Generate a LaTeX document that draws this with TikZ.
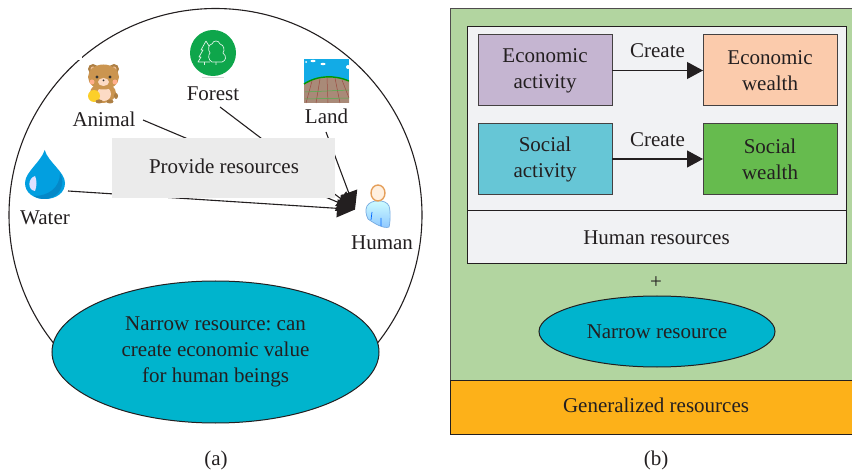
\documentclass[tikz,border=0pt]{standalone}
\usepackage{fontspec}
\setmainfont{Liberation Serif}
\usetikzlibrary{arrows.meta,shapes.geometric}
\definecolor{ink}{HTML}{231F20}
\definecolor{outergreen}{HTML}{B2D5A0}
\definecolor{panel}{HTML}{F1F2F4}
\definecolor{orangebar}{HTML}{FDB119}
\definecolor{cyanell}{HTML}{00B4CD}
\definecolor{purplebox}{HTML}{C5B5D1}
\definecolor{peachbox}{HTML}{FBCBAC}
\definecolor{tealbox}{HTML}{66C6D6}
\definecolor{greenbox}{HTML}{66BB4E}
\definecolor{graybox}{HTML}{EBEBEB}
\definecolor{forestgreen}{HTML}{0EA64B}
\definecolor{bearbrown}{HTML}{CB9550}
\definecolor{fieldbrown}{HTML}{A98A78}
\definecolor{skyblue}{HTML}{12ABE6}
\definecolor{dropblue}{HTML}{029FE0}
\definecolor{dropdark}{HTML}{0488C8}
\tikzset{
  x=1pt,y=-1pt,
  every node/.style={font=\fontsize{21}{26}\selectfont\frenchspacing,text=ink,align=center,inner sep=0pt,outer sep=0pt},
  boxed/.style={draw=ink!85,line width=1pt,minimum width=134pt,minimum height=71pt},
  feed/.style={draw=ink,line width=1.1pt,-{Triangle[length=18pt,width=18pt]}},
  create/.style={draw=ink,line width=1.1pt,-{Triangle[length=16pt,width=17pt]}},
  oval/.style={ellipse,draw=ink,line width=1pt,fill=cyanell},
  panelbox/.style={draw=ink,line width=1pt,fill=panel}
}
\begin{document}
\begin{tikzpicture}
\useasboundingbox (0,0) rectangle (852,473);
% ---- panel (a)
\node[circle,draw=ink,line width=1.1pt,minimum size=413pt] (world) at (215.5,215) {};
\fill[white] (78,55) rectangle (82,60);
\node (forest) at (213,94) {Forest};
\node (animal) at (104,119) {Animal};
\node (land) at (326.5,116) {Land};
\node (water) at (45,218) {Water};
\node (human) at (382,243) {Human};
\coordinate (humanport) at (355,209.5);
\coordinate (animalfoot) at (143,120);
\coordinate (forestfoot) at (220,107);
\coordinate (landfoot) at (326,132);
\coordinate (waterfoot) at (68,191);
\draw[feed] (animalfoot) -- (humanport);
\draw[feed] (forestfoot) -- (humanport);
\draw[feed] (landfoot) -- (humanport);
\draw[feed] (waterfoot) -- (humanport);
\node[fill=graybox,minimum width=223pt,minimum height=60pt] (provide) at (223.5,168) {};
\node at (224,166) {Provide resources};
\node[oval,minimum width=327pt,minimum height=142pt] (narrowa) at (215.5,352) {};
\node at (215.5,352) {Narrow resource: can\\create economic value\\for human beings};
\node (capa) at (216,460) {(a)};
% forest icon
\fill[forestgreen] (213,53) circle (23);
\fill[gray!30] (202,77) rectangle (224,78);
\draw[white!85!forestgreen,line width=0.7pt,line join=round]
  (206,41) -- (201,50) -- (203,50) -- (199,57) -- (201,57) -- (198,62) -- (210,62)
  (206,41) -- (209,46)
  (204.5,62) -- (204.5,65)
  (216,62) -- (216,65);
\draw[white!85!forestgreen,line width=0.7pt,line join=round]
  (212,62) .. controls (208,60) and (208,55) .. (210,53)
  .. controls (207,49) and (209,44) .. (212,44)
  .. controls (213,40) and (219,40) .. (220,44)
  .. controls (224,45) and (225,50) .. (223,53)
  .. controls (227,56) and (226,61) .. (222,62) -- cycle;
% bear icon
\fill[bearbrown!85!black] (93,69) circle (5) (114,69) circle (5);
\fill[peachbox!70!bearbrown] (93,69) circle (2.5) (114,69) circle (2.5);
\fill[bearbrown] (103,93) ellipse (13 and 10);
\fill[peachbox!70!white] (104,94) ellipse (7 and 7);
\fill[bearbrown] (103.5,77) ellipse (15.5 and 12.5);
\fill[peachbox!70!white] (103.5,82) ellipse (5.5 and 4);
\fill[black!80] (97,77) circle (1.7) (110,77) circle (1.7) (103.5,80.5) circle (1);
\fill[orange!60!red!45] (92,82) circle (2.5) (115,82) circle (2.5);
\fill[yellow!60!orange!85] (94,96) circle (6);
\fill[bearbrown!85!black] (99,101.5) ellipse (3.5 and 2) (110,101.5) ellipse (3.5 and 2) (116,96) ellipse (2 and 3);
% land icon
\fill[skyblue] (304,59) rectangle (349,85);
\fill[white] (313,61) ellipse (2.5 and 1.2) (323,64) ellipse (2.5 and 1.2) (348,67) circle (2) (306,62) circle (1);
\fill[fieldbrown] (304,84) .. controls (318,75) and (335,75) .. (349,81) -- (349,103) -- (304,103) -- cycle;
\draw[green!60!black,line width=1.4pt] (304,84) .. controls (318,75) and (335,75) .. (349,81);
\draw[fieldbrown!70!red!80!black,line width=0.5pt]
  (312,81) -- (306,103) (320,79) -- (316,103) (327,78) -- (328,103) (335,78) -- (340,103) (342,80) -- (349,98);
\draw[green!40!gray,line width=0.5pt] (305,92) -- (349,90) (305,99) -- (349,98);
% water drop icon
\fill[dropblue] (44.7,150)
  .. controls (48,162) and (65,172) .. (65,183)
  .. controls (65,193) and (56,199) .. (45,199)
  .. controls (34,199) and (25,193) .. (25,183)
  .. controls (25,172) and (41,162) .. (44.7,150) -- cycle;
\fill[dropdark] (60,173) .. controls (66,184) and (60,198) .. (45,199)
  .. controls (40,199) and (36,198) .. (34,196)
  .. controls (48,196) and (60,188) .. (60,173) -- cycle;
\fill[blue!12!white] (35,176) .. controls (28,178) and (27,190) .. (35,191)
  .. controls (37,186) and (37,180) .. (35,176) -- cycle;
% human icon
\path[shade,top color=cyan!18!white,bottom color=cyan!50!blue!45!white,draw=cyan!60!blue!55!white,line width=0.7pt]
  (367,206) .. controls (371,199) and (386,199) .. (389,206)
  .. controls (391,212) and (390,224) .. (389,227)
  .. controls (384,229) and (375,224) .. (368,219)
  .. controls (366,215) and (365,210) .. (367,206) -- cycle;
\draw[blue!60!cyan,line width=0.7pt] (372,212) -- (371,220) (381,218) -- (381,226);
\fill[white!88!orange] (378,193) ellipse (7 and 8);
\draw[brown!55!orange!75!white,line width=1.4pt] (378,193) ellipse (7 and 8);
% ---- panel (b)
\node[draw=ink!80,fill=outergreen,line width=1pt,minimum width=402pt,minimum height=425pt] (outer) at (651,221.5) {};
\node[panelbox,minimum width=379pt,minimum height=184pt] (activities) at (656.5,119) {};
\node[panelbox,minimum width=379pt,minimum height=53pt] (humanres) at (656.5,237.5) {Human resources};
\node[boxed,fill=purplebox] (ea) at (545,70.5) {Economic\\activity};
\node[boxed,fill=peachbox] (ew) at (770,70.5) {Economic\\wealth};
\node[boxed,fill=tealbox] (sa) at (545,159) {Social\\activity};
\node[boxed,fill=greenbox] (sw) at (770,159) {Social\\wealth};
\draw[create] (ea) -- node[above=13pt] (c1) {Create} (ew);
\draw[create] (sa) -- node[above=12pt] (c2) {Create} (sw);
\node (plus) at (656,283) {+};
\node[oval,minimum width=236pt,minimum height=71pt] (narrowb) at (657,331.5) {Narrow resource};
\node[draw=ink,fill=orangebar,line width=1pt,minimum width=402pt,minimum height=54pt] (general) at (651,407) {};
\node at (656,405) {Generalized resources};
\node (capb) at (656,460) {(b)};
\end{tikzpicture}
\end{document}
